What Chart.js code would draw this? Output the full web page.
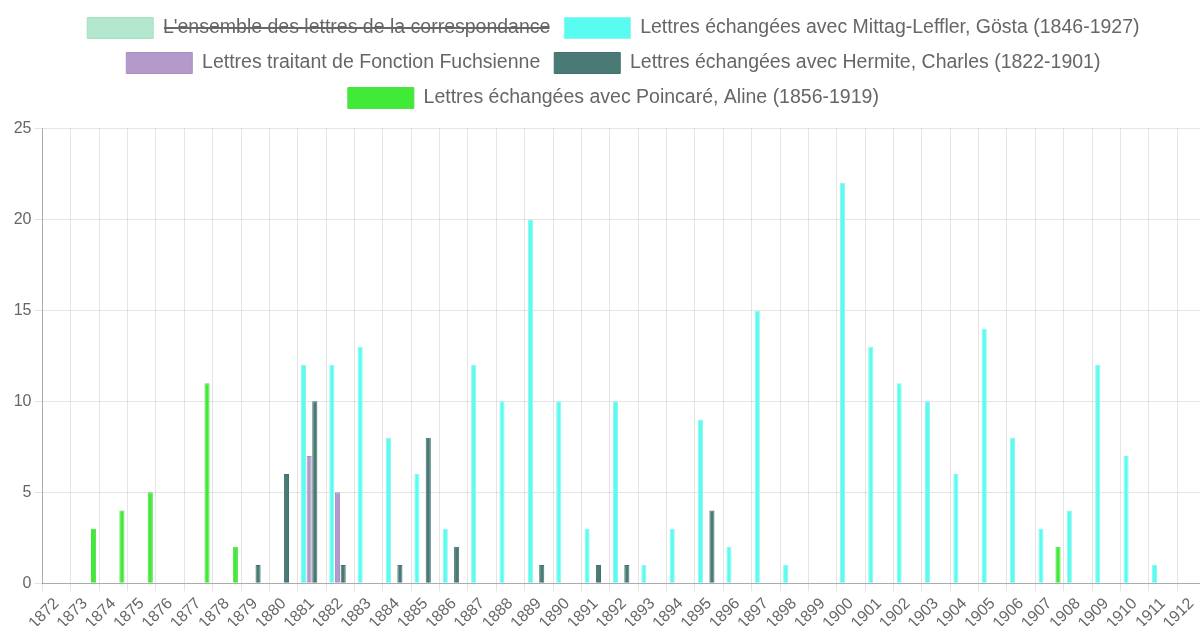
<!DOCTYPE html>
<html>
<head>
<meta charset="utf-8">
<script src="https://cdn.jsdelivr.net/npm/chart.js@4.4.1/dist/chart.umd.min.js"></script>
<style>
  html, body { margin: 0; padding: 0; overflow: hidden; background: #fff; }
  #wrap { width: 1216px; height: 636px; }
</style>
</head>
<body>
<div id="wrap"><canvas id="chartLettres" width="1216" height="636"></canvas></div>
<script>
var years = [
  '1872', '1873', '1874', '1875', '1876', '1877', '1878', '1879', '1880', '1881',
  '1882', '1883', '1884', '1885', '1886', '1887', '1888', '1889', '1890', '1891',
  '1892', '1893', '1894', '1895', '1896', '1897', '1898', '1899', '1900', '1901',
  '1902', '1903', '1904', '1905', '1906', '1907', '1908', '1909', '1910', '1911',
  '1912'
];

// serie masquee dans la legende (barree), rien n'est dessine
var ensemble = [];

var mittagLeffler = [
  null, null, null, null, null, null, null, null, null, 12,
  12, 13, 8, 6, 3, 12, 10, 20, 10, 3,
  10, 1, 3, 9, 2, 15, 1, null, 22, 13,
  11, 10, 6, 14, 8, 3, 4, 12, 7, 1,
  null
];

var fuchsienne = [
  null, null, null, null, null, null, null, null, null, 7,
  5, null, null, null, null, null, null, null, null, null,
  null, null, null, null, null, null, null, null, null, null,
  null, null, null, null, null, null, null, null, null, null,
  null
];

var hermite = [
  null, null, null, null, null, null, null, 1, 6, 10,
  1, null, 1, 8, 2, null, null, 1, null, 1,
  1, null, null, 4, null, null, null, null, null, null,
  null, null, null, null, null, null, null, null, null, null,
  null
];

var aline = [
  null, 3, 4, 5, null, 11, 2, null, null, null,
  null, null, null, null, null, null, null, null, null, null,
  null, null, null, null, null, null, null, null, null, null,
  null, null, null, null, null, 2, null, null, null, null,
  null
];

var fontFamily = "'Liberation Sans', Arial, Helvetica, sans-serif";
var chartLettres;

// un peu d'air sous la legende
var legendMargin = {
  id: 'legendMargin',
  beforeInit: function(chart) {
    var fitLegend = chart.legend.fit;
    chart.legend.fit = function() {
      fitLegend.call(this);
      this.height += 10;
    };
  }
};

chartLettres = new Chart(document.getElementById('chartLettres').getContext('2d'), {
  type: 'bar',
  data: {
    labels: years,
    datasets: [
      {
        label: "L'ensemble des lettres de la correspondance",
        data: ensemble,
        hidden: true,
        backgroundColor: '#b3e8cf',
        borderColor: '#a6e0c4',
        borderWidth: 1
      },
      {
        label: 'Lettres échangées avec Mittag-Leffler, Gösta (1846-1927)',
        data: mittagLeffler,
        backgroundColor: '#58fcf0',
        borderColor: '#8ff5ee',
        borderWidth: 1
      },
      {
        label: 'Lettres traitant de Fonction Fuchsienne',
        data: fuchsienne,
        backgroundColor: '#b49acb',
        borderColor: '#a98fc2',
        borderWidth: 1
      },
      {
        label: 'Lettres échangées avec Hermite, Charles (1822-1901)',
        data: hermite,
        backgroundColor: '#4a7a76',
        borderColor: '#42706c',
        borderWidth: 1
      },
      {
        label: 'Lettres échangées avec Poincaré, Aline (1856-1919)',
        data: aline,
        backgroundColor: '#40ea36',
        borderColor: '#4ee045',
        borderWidth: 1
      }
    ]
  },
  options: {
    responsive: false,
    animation: false,
    layout: {
      padding: { top: 3.5, left: 10.7, right: 0, bottom: 0 }
    },
    plugins: {
      legend: {
        position: 'top',
        labels: {
          boxWidth: 66,
          boxHeight: 21,
          padding: 14,
          color: '#666',
          font: { family: fontFamily, size: 19.5 }
        }
      },
      tooltip: { enabled: false }
    },
    scales: {
      x: {
        grid: { color: 'rgba(0,0,0,0.1)', tickLength: 8 },
        border: { color: 'rgba(0,0,0,0.25)' },
        ticks: {
          autoSkip: false,
          minRotation: 45,
          maxRotation: 45,
          color: '#666',
          font: { family: fontFamily, size: 16 }
        },
        afterFit: function(scale) {
          scale.paddingRight = 10.5;
        }
      },
      y: {
        min: 0,
        max: 25,
        grid: { color: 'rgba(0,0,0,0.1)', tickLength: 8 },
        border: { color: 'rgba(0,0,0,0.25)' },
        ticks: {
          stepSize: 5,
          color: '#666',
          font: { family: fontFamily, size: 16 }
        }
      }
    }
  },
  plugins: [legendMargin]
});
</script>
</body>
</html>
